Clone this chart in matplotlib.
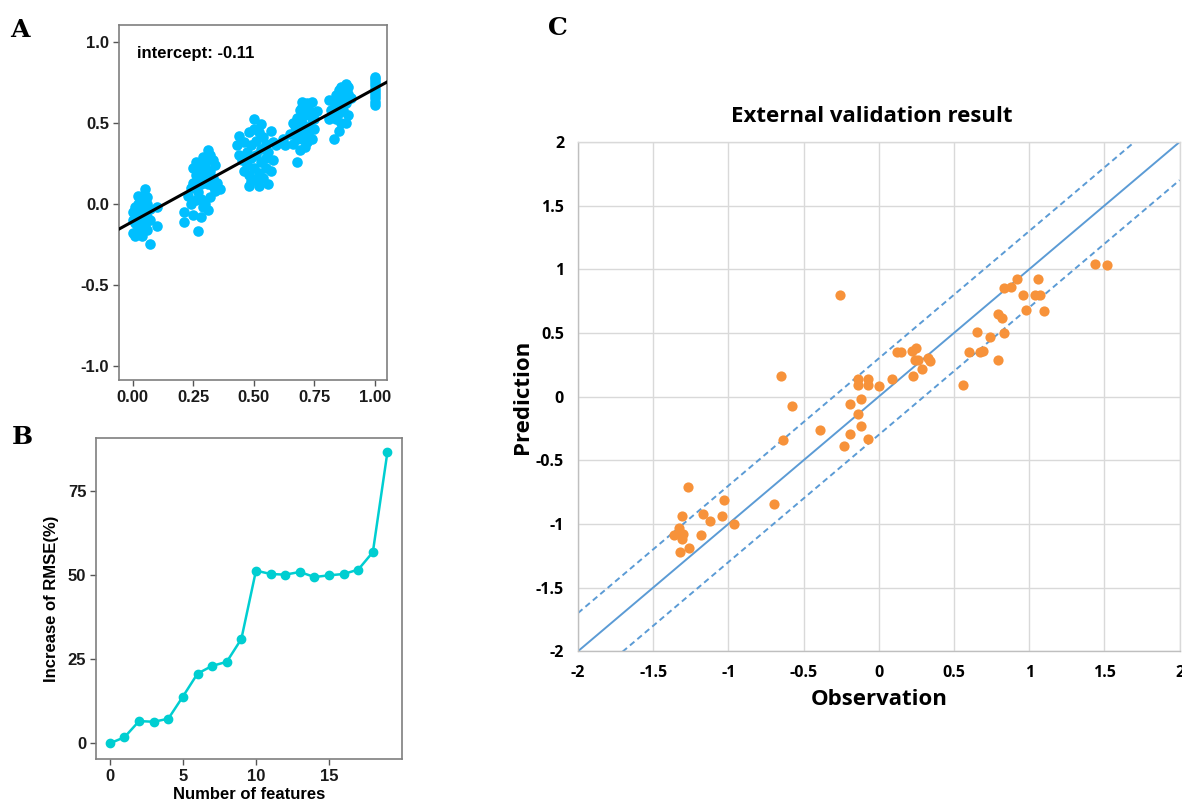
import matplotlib
matplotlib.use("Agg")
import matplotlib.pyplot as plt
import numpy as np

# ---- panel A: fitted values vs scaled response ----
a_x = [0.00, 0.01, 0.02, 0.03, 0.04, 0.05, 0.05, 0.06, 0.07, 0.02, 0.03, 0.04, 0.05, 0.06, 0.07, 0.01,
       0.02, 0.03, 0.04, 0.00, 0.05, 0.06, 0.10, 0.10, 0.07, 0.01, 0.03, 0.04, 0.00, 0.06, 0.02,
       0.21, 0.21, 0.27, 0.25, 0.28, 0.24, 0.23, 0.24, 0.25, 0.26, 0.27, 0.28, 0.29, 0.31, 0.32, 0.33,
       0.30, 0.29, 0.30, 0.31, 0.32, 0.34, 0.35, 0.34, 0.32, 0.30, 0.28, 0.27, 0.26, 0.29, 0.31, 0.28,
       0.27, 0.33, 0.36, 0.33, 0.25, 0.30, 0.26,
       0.50, 0.44, 0.43, 0.48, 0.52, 0.56, 0.57, 0.58, 0.46, 0.48, 0.50, 0.52, 0.54, 0.55, 0.47, 0.49,
       0.51, 0.53, 0.56, 0.45, 0.47, 0.49, 0.51, 0.53, 0.55, 0.57, 0.46, 0.48, 0.50, 0.52, 0.54, 0.49,
       0.51, 0.44, 0.58, 0.59, 0.53, 0.47, 0.55,
       0.68, 0.63, 0.62, 0.65, 0.66, 0.68, 0.69, 0.70, 0.71, 0.70, 0.70, 0.74, 0.72, 0.73, 0.76, 0.75,
       0.73, 0.72, 0.74, 0.71, 0.69, 0.67, 0.68, 0.66, 0.73, 0.75, 0.70, 0.72, 0.67, 0.71, 0.74, 0.69,
       0.83, 0.85, 0.81, 0.82, 0.83, 0.84, 0.85, 0.86, 0.88, 0.89, 0.87, 0.86, 0.85, 0.84, 0.87, 0.88,
       0.89, 0.88, 0.86, 0.90, 0.81, 0.83, 0.87, 0.85, 0.89,
       1.00, 1.00, 1.00, 1.00, 1.00, 1.00, 1.00, 1.00, 1.00, 1.00]
a_y = [-0.05, -0.02, 0.00, 0.03, 0.05, 0.09, 0.02, 0.00, -0.03, -0.08, -0.10, -0.06, -0.04, -0.08, -0.10, -0.12,
       -0.15, -0.18, -0.20, -0.18, -0.13, -0.16, -0.02, -0.14, -0.25, -0.20, -0.13, 0.00, -0.10, 0.04, 0.05,
       -0.05, -0.11, -0.17, -0.07, -0.08, 0.00, 0.05, 0.10, 0.13, 0.18, 0.22, 0.26, 0.29, 0.33, 0.30, 0.27,
       0.24, 0.20, 0.16, 0.12, 0.20, 0.24, 0.13, 0.08, 0.04, 0.00, 0.03, 0.07, 0.02, -0.02, -0.04, 0.12,
       0.15, 0.16, 0.09, 0.11, 0.22, 0.28, 0.26,
       0.52, 0.42, 0.36, 0.11, 0.11, 0.12, 0.45, 0.27, 0.38, 0.44, 0.46, 0.44, 0.41, 0.37, 0.32, 0.36,
       0.39, 0.34, 0.32, 0.27, 0.24, 0.28, 0.30, 0.26, 0.22, 0.20, 0.20, 0.18, 0.22, 0.19, 0.16, 0.14,
       0.15, 0.30, 0.38, 0.36, 0.49, 0.28, 0.28,
       0.26, 0.36, 0.40, 0.43, 0.37, 0.40, 0.45, 0.50, 0.55, 0.60, 0.63, 0.63, 0.62, 0.58, 0.57, 0.52,
       0.48, 0.42, 0.40, 0.35, 0.33, 0.48, 0.53, 0.50, 0.45, 0.46, 0.40, 0.38, 0.44, 0.47, 0.53, 0.58,
       0.40, 0.45, 0.52, 0.58, 0.63, 0.67, 0.70, 0.72, 0.74, 0.72, 0.66, 0.62, 0.56, 0.52, 0.58, 0.62,
       0.55, 0.50, 0.50, 0.65, 0.64, 0.55, 0.69, 0.61, 0.68,
       0.61, 0.63, 0.65, 0.67, 0.69, 0.71, 0.73, 0.75, 0.77, 0.78]
a_intercept = -0.11
a_slope = 0.82

# ---- panel B: RMSE increase by number of features ----
b_features = list(range(20))
b_rmse = [0.0, 1.8, 6.6, 6.4, 7.3, 13.9, 20.7, 23.0, 24.2, 31.0,
          51.3, 50.3, 50.1, 50.9, 49.4, 49.9, 50.3, 51.6, 56.8, 86.6]

# ---- panel C: external validation ----
obs = [-1.27, -1.03, -1.04, -0.96, -1.12, -1.17, -1.18, -1.31, -1.33, -1.36, -1.30, -1.31, -1.26, -1.32, -0.70,
       -0.65, -0.58, -0.64, -0.39, -0.26, -0.23, -0.19, -0.19, -0.14, -0.12, -0.07, -0.12, -0.14, -0.14,
       -0.07, -0.07, 0.00, 0.09,
       0.12, 0.15, 0.22, 0.25, 0.24, 0.26, 0.33, 0.34, 0.29, 0.23, 0.56, 0.60, 0.67, 0.69, 0.79, 0.65,
       0.74, 0.83, 0.79, 0.82, 0.83, 0.88, 0.92, 1.06, 0.96, 1.04, 1.07, 0.98, 1.10, 1.44, 1.52]
pred = [-0.71, -0.81, -0.94, -1.00, -0.98, -0.92, -1.09, -0.94, -1.03, -1.09, -1.08, -1.12, -1.19, -1.22, -0.84,
        0.16, -0.07, -0.34, -0.26, 0.80, -0.39, -0.29, -0.06, -0.14, -0.23, -0.33, -0.02, 0.14, 0.09,
        0.14, 0.09, 0.08, 0.14,
        0.35, 0.35, 0.36, 0.38, 0.29, 0.29, 0.30, 0.28, 0.22, 0.16, 0.09, 0.35, 0.35, 0.36, 0.29, 0.51,
        0.47, 0.50, 0.65, 0.62, 0.85, 0.86, 0.92, 0.92, 0.80, 0.80, 0.80, 0.68, 0.67, 1.04, 1.03]
c_ticks = [-2, -1.5, -1, -0.5, 0, 0.5, 1, 1.5, 2]
c_ticklabels = ["-2", "-1.5", "-1", "-0.5", "0", "0.5", "1", "1.5", "2"]
band = 0.3

sans = "Liberation Sans"
fig = plt.figure(figsize=(11.82, 8.02), dpi=100)

# panel A
ax1 = fig.add_axes([0.1007, 0.5262, 0.2267, 0.4426])
ax1.scatter(a_x, a_y, s=58, color="#00BFFF", linewidths=0, zorder=2)
ax1.set_xlim(-0.0565, 1.05)
ax1.set_ylim(-1.088, 1.103)
lx = np.array(ax1.get_xlim())
ax1.plot(lx, a_intercept + a_slope * lx, color="black", lw=2.2, zorder=3)
ax1.text(0.018, 0.928, "intercept: -0.11", fontsize=12, fontweight="bold", family=sans, va="center")
ax1.set_xticks([0, 0.25, 0.5, 0.75, 1.0])
ax1.set_xticklabels(["0.00", "0.25", "0.50", "0.75", "1.00"])
ax1.set_yticks([-1, -0.5, 0, 0.5, 1])
ax1.set_yticklabels(["-1.0", "-0.5", "0.0", "0.5", "1.0"])

# panel B
ax2 = fig.add_axes([0.0812, 0.0532, 0.2586, 0.4011])
ax2.plot(b_features, b_rmse, color="#00CED1", lw=1.8, marker="o", ms=6, zorder=2)
ax2.set_xlim(-0.95, 19.97)
ax2.set_ylim(-4.76, 90.8)
ax2.set_xticks([0, 5, 10, 15])
ax2.set_yticks([0, 25, 50, 75])
ax2.set_xlabel("Number of features", fontsize=12, fontweight="bold", family=sans, labelpad=2)
ax2.set_ylabel("Increase of RMSE(%)", fontsize=12, fontweight="bold", family=sans, labelpad=6)

for ax in (ax1, ax2):
    for sp in ax.spines.values():
        sp.set_color("#7f7f7f")
        sp.set_linewidth(1.2)
    ax.tick_params(direction="out", length=4, width=1, color="#555555", pad=3)
    for lab in ax.get_xticklabels() + ax.get_yticklabels():
        lab.set_fontsize(12)
        lab.set_fontweight("bold")
        lab.set_family(sans)
        lab.set_color("#1a1a1a")

# panel C
cfont = "Open Sans"
ax3 = fig.add_axes([0.489, 0.188, 0.509, 0.635])
ax3.set_xlim(-2, 2)
ax3.set_ylim(-2, 2)
ax3.set_xticks(c_ticks)
ax3.set_yticks(c_ticks)
ax3.set_xticklabels(c_ticklabels)
ax3.set_yticklabels(c_ticklabels)
ax3.grid(True, color="#d9d9d9", lw=1.0, zorder=0)
ax3.set_axisbelow(True)
for name, sp in ax3.spines.items():
    sp.set_color("#bfbfbf" if name in ("left", "bottom") else "#d9d9d9")
    sp.set_linewidth(1.0)
ax3.tick_params(length=0, pad=10)
for lab in ax3.get_xticklabels() + ax3.get_yticklabels():
    lab.set_fontsize(11.5)
    lab.set_fontweight("bold")
    lab.set_family(cfont)
ref = np.array(c_ticks)
ax3.plot(ref, ref, color="#5B9BD5", lw=1.4, zorder=2)
ax3.plot(ref, ref + band, color="#5B9BD5", lw=1.4, dashes=(3, 2), zorder=2)
ax3.plot(ref, ref - band, color="#5B9BD5", lw=1.4, dashes=(3, 2), zorder=2)
ax3.scatter(obs, pred, s=54, color="#F7923A", linewidths=0, zorder=3)
ax3.set_xlabel("Observation", fontsize=16, fontweight="bold", family=cfont, labelpad=6)
ax3.set_ylabel("Prediction", fontsize=16, fontweight="bold", family=cfont, labelpad=2)
fig.text(872 / 1182, 1 - 117 / 802, "External validation result", fontsize=16, fontweight="bold",
         family=cfont, ha="center", va="center")

# panel letters
fig.text(20 / 1182, 1 - 30 / 802, "A", fontsize=18, fontweight="bold", family="DejaVu Serif", ha="center", va="center")
fig.text(22 / 1182, 1 - 437 / 802, "B", fontsize=18, fontweight="bold", family="DejaVu Serif", ha="center", va="center")
fig.text(558 / 1182, 1 - 28 / 802, "C", fontsize=18, fontweight="bold", family="DejaVu Serif", ha="center", va="center")

fig.savefig("out.png", dpi=100)
